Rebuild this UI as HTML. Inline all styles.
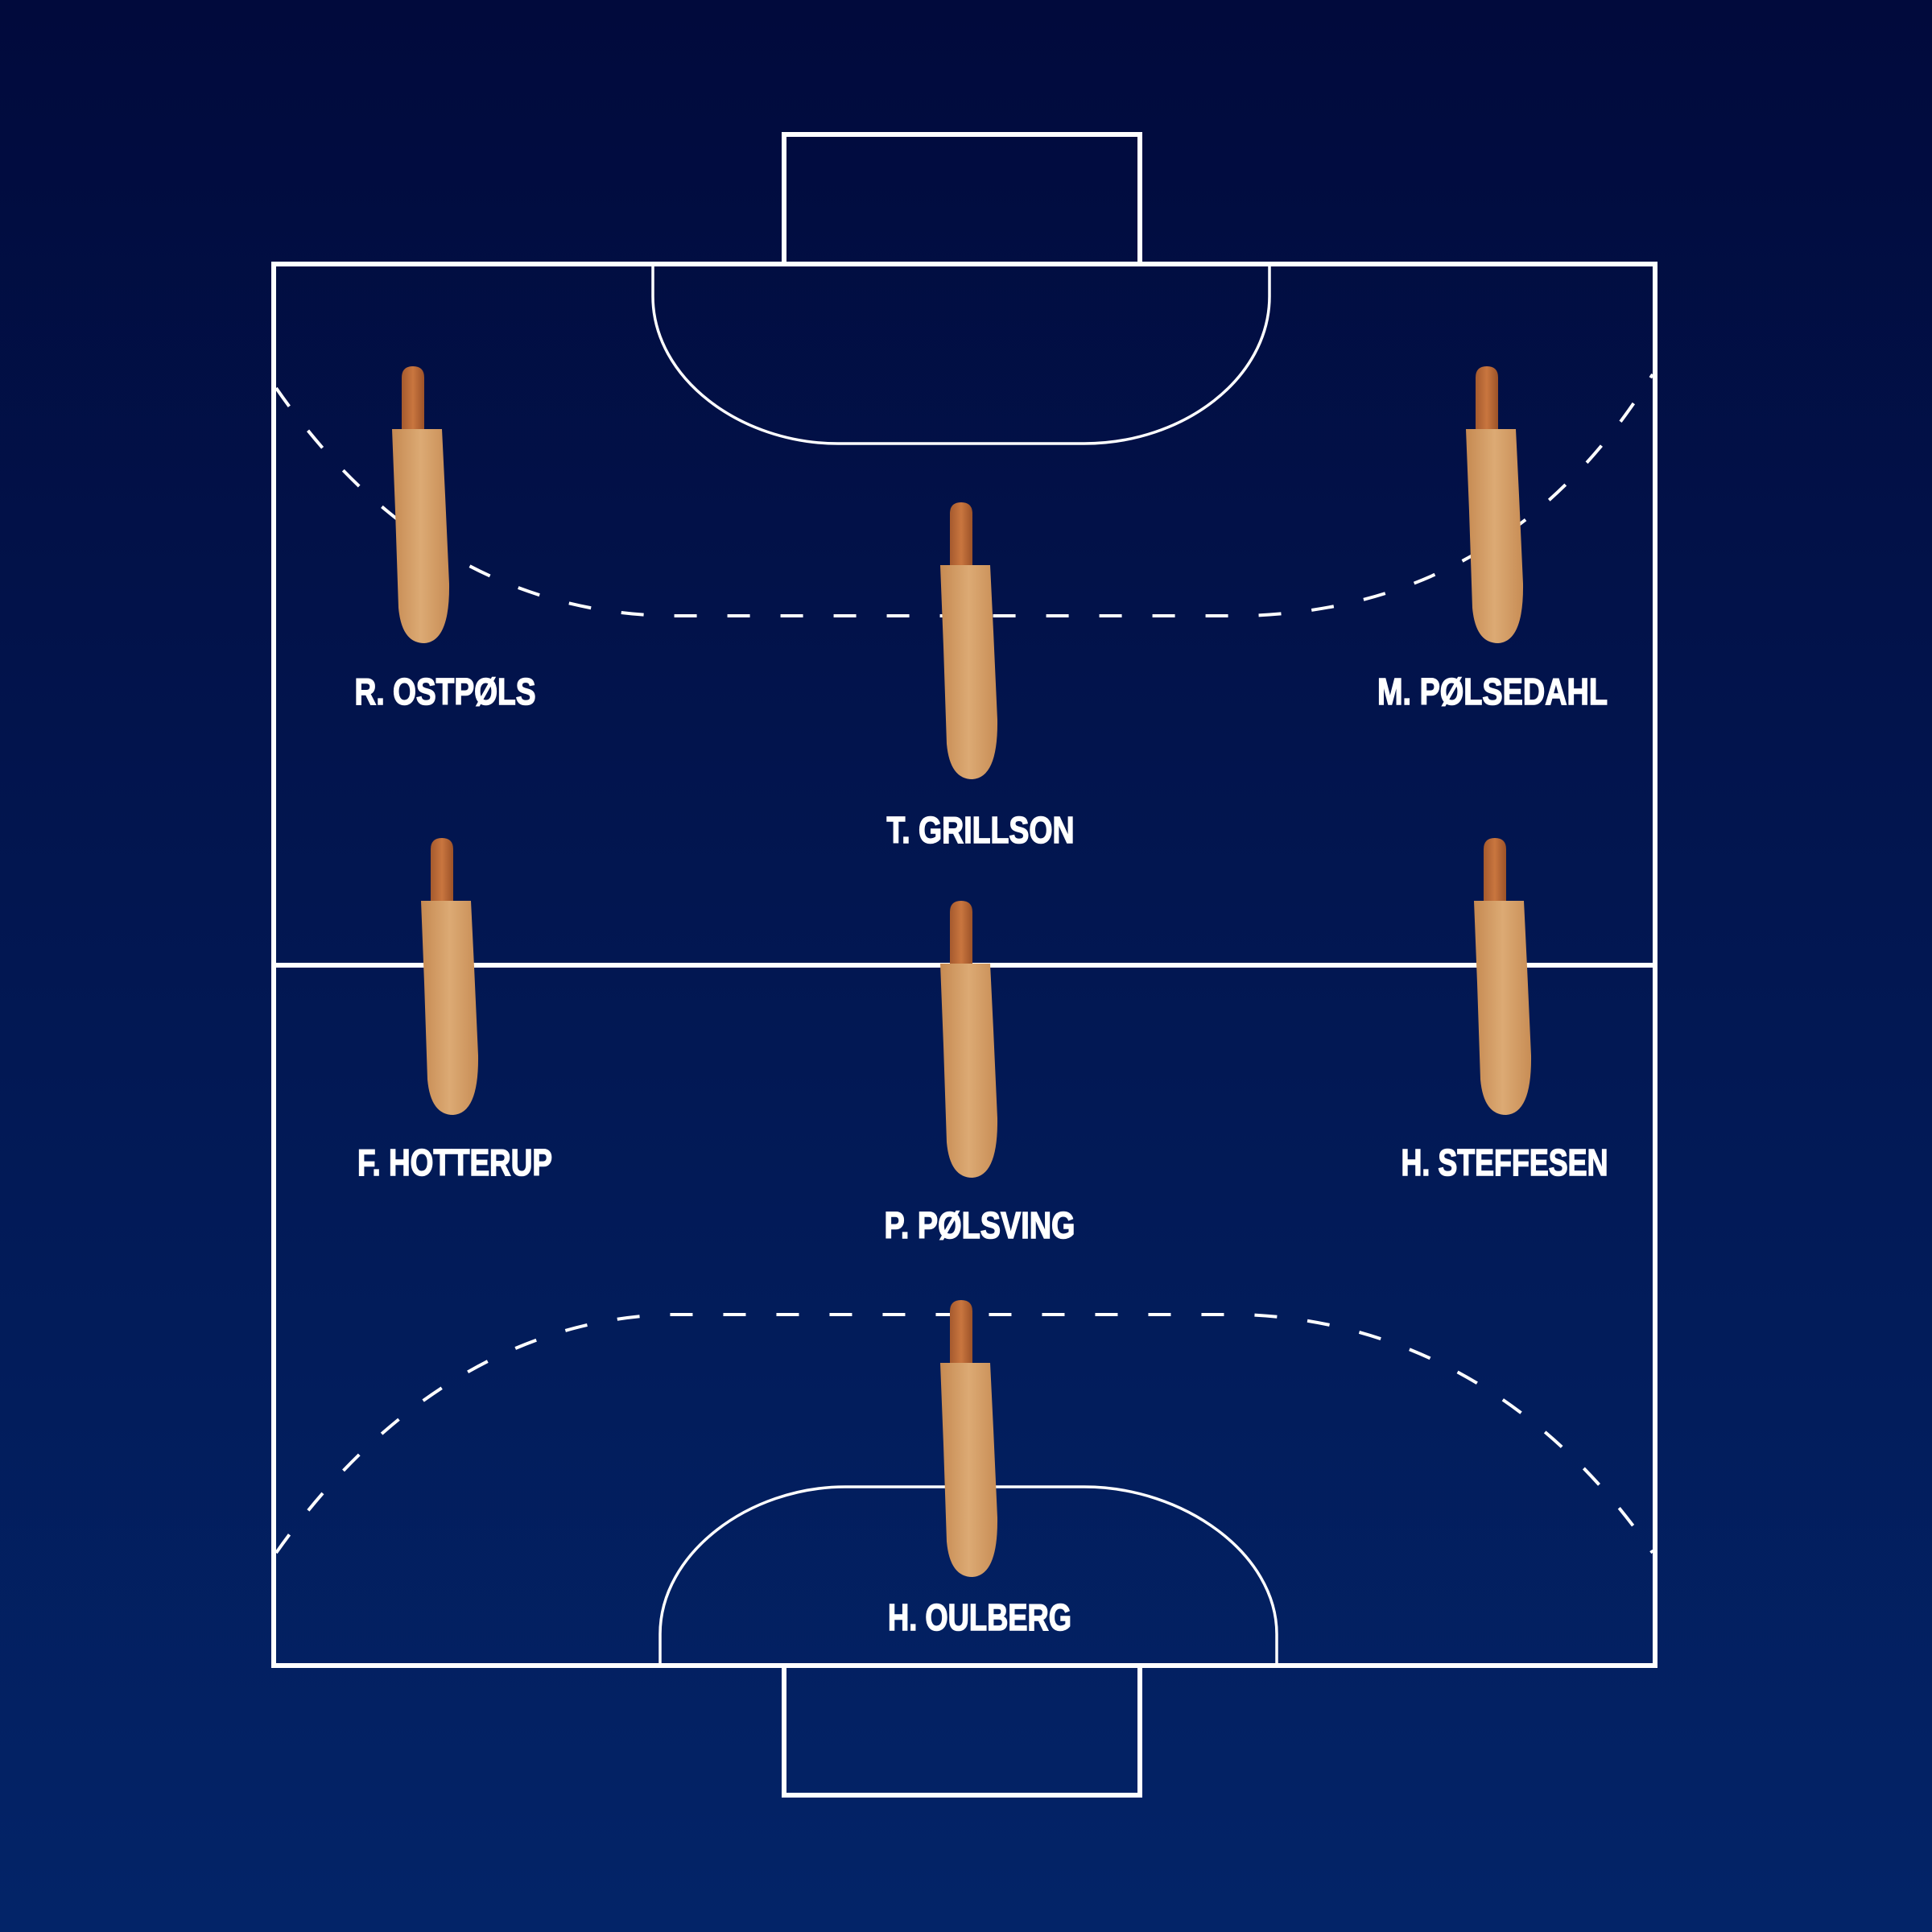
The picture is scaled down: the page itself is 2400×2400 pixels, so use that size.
<!DOCTYPE html>
<html><head><meta charset="utf-8"><style>
html,body{margin:0;padding:0;}
body{width:2400px;height:2400px;background:linear-gradient(#010a3c,#032468);}
svg{display:block}
</style></head><body>
<svg width="2400" height="2400" viewBox="0 0 2400 2400" xmlns="http://www.w3.org/2000/svg">
<defs>
<linearGradient id="bun" x1="0" x2="1" y1="0" y2="0">
<stop offset="0" stop-color="#c68a52"/><stop offset="0.5" stop-color="#dcaa74"/><stop offset="1" stop-color="#c88d55"/>
</linearGradient>
<linearGradient id="saus" x1="0" x2="1">
<stop offset="0" stop-color="#a55a2e"/><stop offset="0.5" stop-color="#c9763f"/><stop offset="1" stop-color="#9c5228"/>
</linearGradient>
<g id="hd">
<path d="M-14,80 L-14,14 Q-14,0 0,0 Q14,0 14,14 L14,80 Z" fill="url(#saus)"/>
<path d="M-26,78 L36,78 L40,160 L45,270 Q46,342 14,344 Q-14,344 -18,300 L-22,180 Z" fill="url(#bun)"/>
</g>
</defs>
<g fill="none" stroke="#fff">
<rect x="340" y="328" width="1716" height="1741" stroke-width="6"/>
<rect x="974" y="167" width="442" height="161" stroke-width="6"/>
<rect x="974" y="2069" width="442" height="161" stroke-width="6"/>
<line x1="340" y1="1199" x2="2056" y2="1199" stroke-width="6"/>
<path d="M811,328 L811,368 C811,470 920,551 1041,551 L1347,551 C1470,551 1577,470 1577,368 L1577,328" stroke-width="3.5"/>
<path d="M820,2069 L820,2030 C820,1930 930,1847 1050,1847 L1347,1847 C1470,1847 1586,1930 1586,2030 L1586,2069" stroke-width="3.5"/>
<path d="M343,482 C480,680 650,760 826,765 L1546,765 C1740,760 1920,680 2053,465" stroke-width="4" stroke-dasharray="28 38"/>
<path d="M343,1929 C480,1735 650,1640 826,1633 L1546,1633 C1740,1640 1920,1735 2053,1929" stroke-width="4" stroke-dasharray="28 38"/>
</g>
<use href="#hd" x="513" y="455"/>
<use href="#hd" x="1847" y="455"/>
<use href="#hd" x="1194" y="624"/>
<use href="#hd" x="549" y="1041"/>
<use href="#hd" x="1194" y="1119"/>
<use href="#hd" x="1857" y="1041"/>
<use href="#hd" x="1194" y="1615"/>
<g fill="#fff" stroke="#fff" stroke-width="1.5" font-family="Liberation Sans, sans-serif" font-weight="bold" font-size="46" text-anchor="middle">
<text x="553" y="875" textLength="225" lengthAdjust="spacingAndGlyphs">R. OSTPØLS</text>
<text x="1854" y="875" textLength="286" lengthAdjust="spacingAndGlyphs">M. PØLSEDAHL</text>
<text x="1218" y="1047" textLength="233" lengthAdjust="spacingAndGlyphs">T. GRILLSON</text>
<text x="565" y="1460" textLength="242" lengthAdjust="spacingAndGlyphs">F. HOTTERUP</text>
<text x="1869" y="1460" textLength="257" lengthAdjust="spacingAndGlyphs">H. STEFFESEN</text>
<text x="1217" y="1538" textLength="237" lengthAdjust="spacingAndGlyphs">P. PØLSVING</text>
<text x="1217" y="2025" textLength="228" lengthAdjust="spacingAndGlyphs">H. OULBERG</text>
</g>
</svg>
</body></html>
